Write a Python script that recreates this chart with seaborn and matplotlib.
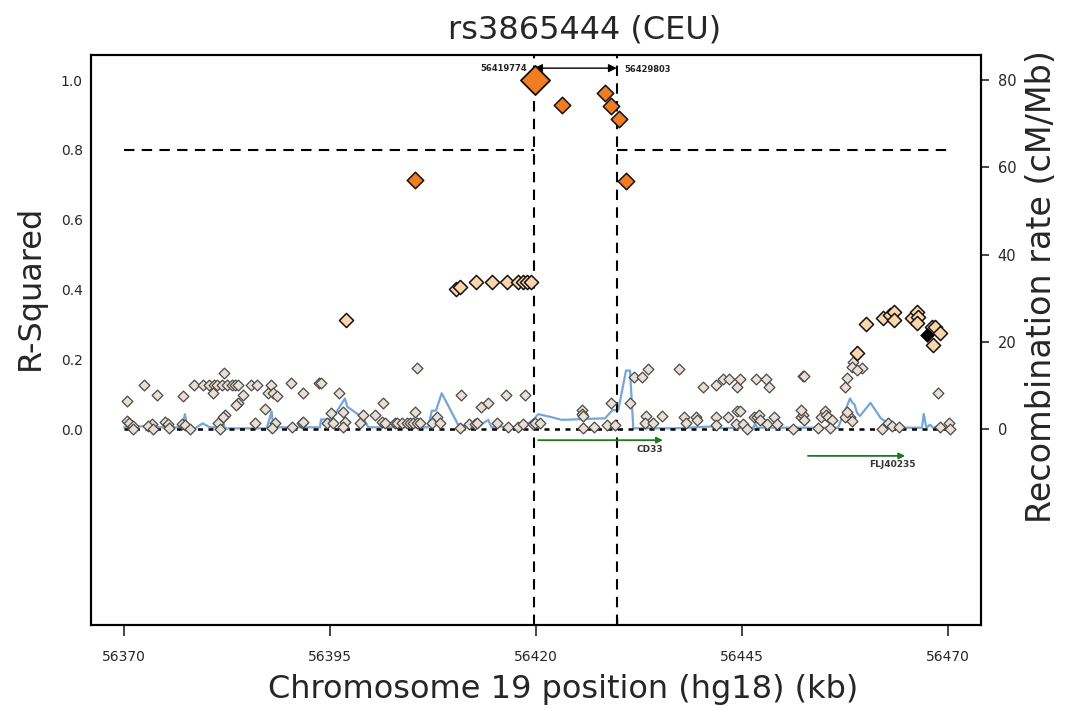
import numpy as np
import pandas as pd
import matplotlib
matplotlib.use("Agg")
import matplotlib.pyplot as plt
import seaborn as sns

sns.set_theme(style="white")
plt.rcParams["font.family"] = ["DejaVu Sans"]

# ---- SNP positions (kb, hg18) and r^2 with rs3865444 ----
snp_kb = [
    # low-LD SNPs
    56370.40, 56372.46, 56373.97, 56377.12,
    56378.53, 56379.55, 56380.35, 56380.96, 56381.25, 56381.86, 56382.46, 56383.07,
    56383.47, 56383.87, 56385.38,
    56382.17, 56380.84, 56384.41, 56383.80, 56383.60, 56382.26, 56381.98,
    56370.33, 56370.61, 56371.13, 56373.36, 56372.95, 56374.98, 56375.38, 56375.50,
    56377.00, 56377.40, 56381.37, 56385.90,
    56371.09, 56373.52, 56378.01, 56381.65,
    56386.10, 56387.84, 56387.51, 56388.12, 56388.53, 56390.23, 56391.76, 56393.70,
    56393.87, 56396.13, 56401.47, 56387.11, 56388.33, 56387.92, 56390.35, 56391.57,
    56391.76, 56395.12, 56394.67, 56395.40, 56396.54, 56396.82, 56396.61, 56398.64,
    56399.04, 56400.46, 56401.27, 56401.67, 56402.89,
    56405.60, 56405.32, 56403.09, 56403.70, 56404.31, 56404.71, 56405.11, 56405.52,
    56405.92, 56407.34, 56407.95, 56408.35, 56410.86, 56410.78, 56411.91, 56412.60,
    56412.80, 56413.29, 56414.21, 56415.23, 56416.36, 56416.64, 56417.85, 56418.39,
    56418.67, 56419.67,
    56419.88, 56420.49, 56425.55, 56425.55, 56425.74, 56425.67, 56427.08, 56428.58,
    56429.59, 56429.10, 56431.41, 56431.89, 56432.90, 56433.63, 56433.35, 56433.23,
    56434.24, 56435.26, 56437.35,
    56440.23, 56441.80, 56442.69, 56443.42, 56444.35, 56444.76, 56446.70, 56447.91,
    56448.25, 56452.36, 56452.57, 56437.96, 56438.25, 56439.42, 56439.49, 56441.84,
    56441.84, 56443.30, 56444.35, 56444.76, 56444.27, 56445.17, 56445.58, 56446.41,
    56446.82, 56447.01, 56447.14, 56448.03, 56448.88, 56449.25, 56451.13, 56452.16,
    56452.36, 56452.57, 56454.22, 56454.64, 56455.04, 56455.24, 56455.44, 56455.86,
    56455.66, 56458.11, 56458.35, 56462.01, 56462.66, 56463.26, 56464.05, 56469.03,
    56470.06, 56470.24, 56468.82, 56458.51, 56458.31, 56459.53, 56457.71, 56457.50,
    56458.96, 56457.50, 56457.71, 56452.10,
    # moderate-LD SNPs
    56396.94, 56410.29, 56410.78, 56412.72, 56414.66, 56416.48, 56417.82, 56418.42,
    56418.91, 56419.39, 56460.05, 56462.15, 56462.96, 56463.48, 56463.45, 56465.59,
    56466.20, 56466.39, 56466.20, 56468.02, 56468.42, 56469.03, 56468.22, 56458.92,
    # high-LD SNPs
    56423.16, 56428.37, 56429.10, 56430.07, 56430.92, 56405.32,
]
snp_r2 = [
    0.080, 0.125, 0.097, 0.095,
    0.125, 0.125, 0.125, 0.125, 0.125, 0.125, 0.125, 0.125,
    0.125, 0.125, 0.125,
    0.160, 0.104, 0.097, 0.075, 0.070, 0.040, 0.035,
    0.024, 0.018, 0.009, 0.013, 0.008, 0.020, 0.013, 0.002,
    0.013, 0.011, 0.018, 0.016,
    0.000, 0.000, 0.000, 0.000,
    0.125, 0.125, 0.104, 0.104, 0.095, 0.133, 0.104, 0.133,
    0.131, 0.104, 0.075, 0.056, 0.018, 0.002, 0.007, 0.018,
    0.020, 0.045, 0.018, 0.016, 0.048, 0.021, 0.007, 0.018,
    0.040, 0.040, 0.021, 0.018, 0.018,
    0.174, 0.050, 0.018, 0.018, 0.018, 0.018, 0.018, 0.018,
    0.018, 0.018, 0.035, 0.018, 0.097, 0.002, 0.014, 0.014,
    0.018, 0.062, 0.074, 0.018, 0.097, 0.005, 0.005, 0.014,
    0.097, 0.014,
    0.018, 0.018, 0.054, 0.043, 0.037, 0.002, 0.005, 0.011,
    0.011, 0.075, 0.075, 0.148, 0.148, 0.171, 0.037, 0.018,
    0.018, 0.037, 0.172,
    0.119, 0.126, 0.143, 0.143, 0.119, 0.143, 0.143, 0.143,
    0.119, 0.153, 0.153, 0.034, 0.017, 0.034, 0.027, 0.034,
    0.012, 0.034, 0.052, 0.052, 0.014, 0.014, 0.001, 0.034,
    0.034, 0.041, 0.027, 0.014, 0.034, 0.014, 0.000, 0.034,
    0.041, 0.027, 0.003, 0.034, 0.052, 0.041, 0.034, 0.027,
    0.003, 0.034, 0.023, 0.000, 0.017, 0.009, 0.006, 0.007,
    0.017, 0.000, 0.102, 0.193, 0.179, 0.174, 0.145, 0.121,
    0.168, 0.035, 0.050, 0.054,
    0.312, 0.401, 0.407, 0.421, 0.421, 0.421, 0.421, 0.421,
    0.421, 0.421, 0.300, 0.317, 0.327, 0.336, 0.312, 0.317,
    0.336, 0.322, 0.303, 0.293, 0.293, 0.274, 0.241, 0.217,
    0.928, 0.963, 0.925, 0.888, 0.711, 0.713,
]

# query SNP and a SNP with no LD information
index_kb, index_r2 = 56419.85, 1.0
nold_kb, nold_r2 = [56467.41], [0.269]

# ---- recombination rate (cM/Mb) ----
recomb_kb = [
    56370.00, 56370.49, 56372.79, 56374.37, 56377.04, 56377.40, 56377.68, 56378.62,
    56379.55, 56380.44, 56381.65, 56382.05, 56382.26, 56387.32, 56387.92, 56388.12,
    56393.79, 56393.91, 56395.21, 56396.82, 56397.10, 56399.04, 56399.65, 56406.93,
    56407.35, 56407.86, 56408.56, 56410.57, 56412.80, 56414.21, 56414.62, 56415.63,
    56416.84, 56418.46, 56419.67, 56420.27, 56421.70, 56423.12, 56428.37, 56429.30,
    56429.99, 56430.92, 56431.41, 56431.81, 56436.87, 56441.48, 56442.28, 56446.41,
    56446.58, 56446.82, 56456.65, 56458.11, 56458.41, 56458.66, 56458.96, 56459.15,
    56459.32, 56460.59, 56461.83, 56462.65, 56463.26, 56466.84, 56467.05, 56467.38,
    56467.82, 56468.18, 56468.79, 56469.45, 56470.00,
]
recomb_rate = [
    0.39, 0.46, 0.69, 0.39, 0.39, 3.4, 0.39, 0.15,
    1.3, 0.39, 0.39, 1.3, 0.15, 0.15, 4.0, 0.39,
    0.39, 2.2, 2.2, 7.0, 5.1, 2.5, 0.39, 0.39,
    4.2, 4.2, 8.2, 0.9, 0.39, 2.1, 0.39, 0.6,
    0.39, 0.39, 2.1, 3.4, 2.8, 2.1, 2.45, 4.35,
    4.35, 13.4, 13.4, 0.16, 0.16, 0.6, 0.2, 0.3,
    1.4, 0.3, 0.3, 7.0, 6.0, 5.6, 3.7, 3.3,
    3.0, 6.0, 2.5, 1.4, 0.3, 0.3, 3.46, 0.3,
    1.0, 0.3, 0.6, 0.3, 0.1,
]

# ---- LD block boundaries and genes ----
block_start, block_end = 56419.774, 56429.803
block_labels = ["56419774", "56429803"]
gene_names = ["CD33", "FLJ40235"]
gene_start = [56420.25, 56453.0]
gene_end = [56435.4, 56464.8]
gene_row = [-0.032, -0.077]

xticks = [56370, 56395, 56420, 56445, 56470]
yticks = [0.0, 0.2, 0.4, 0.6, 0.8, 1.0]
rticks = [0, 20, 40, 60, 80]

snps = pd.DataFrame({"kb": snp_kb, "r2": snp_r2})
snps["ld"] = pd.cut(snps["r2"], bins=[-1, 0.2, 0.5, 2], labels=["low", "mid", "high"])
recomb = pd.DataFrame({"kb": recomb_kb, "rate": recomb_rate})

fig = plt.figure(figsize=(10.72, 7.10), dpi=100)
ax = fig.add_axes([0.0849, 0.1197, 0.8302, 0.8028])
ax2 = ax.twinx()
ax.set_zorder(ax2.get_zorder() + 1)
ax.patch.set_visible(False)

ylo, yhi = -0.5616, 1.0716
xlo, xhi = 56366.0, 56474.0
rate_scale = 80.0

# recombination rate on the right axis
sns.lineplot(data=recomb, x="kb", y="rate", ax=ax2, color="#74a6d8", lw=1.6,
             estimator=None, sort=False)
ax2.set_ylim(ylo * rate_scale, yhi * rate_scale)
ax2.set_yticks(rticks)
ax2.set_ylabel("Recombination rate (cM/Mb)", fontsize=24, va="center", ha="center")
ax2.yaxis.set_label_coords(1.0685, 0.593)
ax2.set_xlabel("")

# reference lines
ax.plot([xticks[0], xticks[-1]], [0, 0], ls=(0, (2, 2.2)), color="black", lw=1.8, zorder=1)
ax.plot([xticks[0], block_start], [0.8, 0.8], ls=(0, (5, 3.5)), color="black", lw=1.5)
ax.plot([block_end, xticks[-1]], [0.8, 0.8], ls=(0, (5, 3.5)), color="black", lw=1.5)
for xv in (block_start, block_end):
    ax.axvline(xv, ls=(0, (5, 3.5)), color="black", lw=1.5, zorder=1)

# SNP points by LD class
styles = {
    "low": dict(color="#e9dfd3", edgecolor="#4a4a4a", s=30, linewidth=0.9),
    "mid": dict(color="#fdd5ab", edgecolor="#111111", s=52, linewidth=1.1),
    "high": dict(color="#f07d22", edgecolor="#111111", s=70, linewidth=1.1),
}
for cls in ["low", "mid", "high"]:
    sub = snps[snps["ld"] == cls]
    sns.scatterplot(data=sub, x="kb", y="r2", ax=ax, marker="D", zorder=3, legend=False,
                    **styles[cls])
sns.scatterplot(x=nold_kb, y=nold_r2, ax=ax, marker="D", color="black",
                edgecolor="black", s=48, zorder=3, legend=False)
sns.scatterplot(x=[index_kb], y=[index_r2], ax=ax, marker="D", color="#f07d22",
                edgecolor="#111111", s=220, linewidth=1.3, zorder=4, legend=False)

# LD block extent
ax.annotate("", xy=(block_start, 1.034), xytext=(block_end, 1.034),
            arrowprops=dict(arrowstyle="<|-|>", color="black", lw=1.0,
                            mutation_scale=12, shrinkA=0, shrinkB=0))
ax.text(block_start - 0.9, 1.034, block_labels[0], ha="right", va="center",
        fontsize=6, fontweight="bold", color="#222222")
ax.text(block_end + 0.9, 1.030, block_labels[1], ha="left", va="center",
        fontsize=6, fontweight="bold", color="#222222")

# genes
for name, g0, g1, row in zip(gene_names, gene_start, gene_end, gene_row):
    ax.annotate("", xy=(g1, row), xytext=(g0, row),
                arrowprops=dict(arrowstyle="-|>", color="#1f7a1f", lw=1.3,
                                mutation_scale=9, shrinkA=0, shrinkB=0))
    ax.text(g1 - 1.6, row - 0.026, name, ha="center", va="center",
            fontsize=6.5, fontweight="bold", color="#333333")

ax.set_xlim(xlo, xhi)
ax.set_ylim(ylo, yhi)
ax.set_xticks(xticks)
ax.set_xticklabels([str(t) for t in xticks])
ax.set_xticks([block_end], minor=True)
ax.set_yticks(yticks)
ax.set_yticklabels([f"{t:.1f}" for t in yticks])
ax.set_xlabel("Chromosome 19 position (hg18) (kb)", fontsize=23, va="center", ha="center")
ax.xaxis.set_label_coords(0.531, -0.114)
ax.set_ylabel("R-Squared", fontsize=23, va="center", ha="center")
ax.yaxis.set_label_coords(-0.0685, 0.593)
ax.set_title("rs3865444 (CEU)", fontsize=23, x=0.555, pad=12)

for a in (ax, ax2):
    for sp in a.spines.values():
        sp.set_color("black")
        sp.set_linewidth(1.5)
ax.tick_params(axis="x", which="major", direction="out", length=8, width=1.2,
               labelsize=10, pad=10, bottom=True)
ax.tick_params(axis="x", which="minor", direction="in", length=5, width=1.0, bottom=True)
ax.tick_params(axis="y", direction="out", length=0, labelsize=10, pad=6, left=True)
ax2.tick_params(axis="y", direction="out", length=6, width=1.2, labelsize=10.5, pad=6, right=True)

fig.savefig("out.png", dpi=100, facecolor="white")
